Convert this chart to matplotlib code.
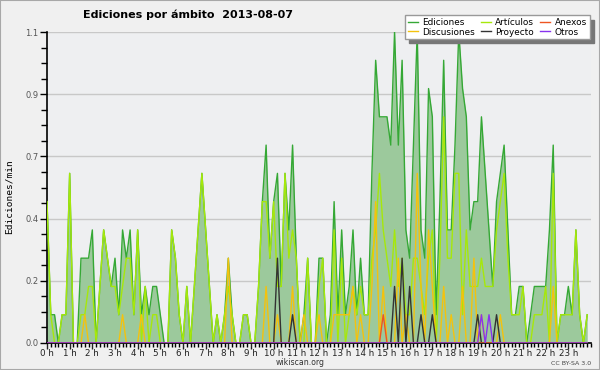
import numpy as np
import matplotlib
matplotlib.use('Agg')
import matplotlib.pyplot as plt
from matplotlib.ticker import FixedLocator, FuncFormatter

# edits per minute, 10-minute bins (144 per day), 12 bins per row = 2 hours
ediciones = [
    0.5, 0.1, 0.1, 0.0, 0.1, 0.1, 0.6, 0.0, 0.0, 0.3, 0.3, 0.3,
    0.4, 0.0, 0.2, 0.4, 0.3, 0.2, 0.3, 0.1, 0.4, 0.3, 0.4, 0.1,
    0.4, 0.1, 0.2, 0.1, 0.2, 0.2, 0.1, 0.0, 0.0, 0.4, 0.3, 0.1,
    0.0, 0.2, 0.0, 0.2, 0.4, 0.6, 0.4, 0.2, 0.0, 0.1, 0.0, 0.1,
    0.3, 0.1, 0.0, 0.0, 0.1, 0.1, 0.0, 0.0, 0.2, 0.5, 0.7, 0.3,
    0.5, 0.6, 0.2, 0.6, 0.4, 0.7, 0.3, 0.0, 0.1, 0.3, 0.0, 0.0,
    0.3, 0.3, 0.0, 0.1, 0.5, 0.1, 0.4, 0.1, 0.2, 0.4, 0.1, 0.3,
    0.1, 0.1, 0.6, 1.0, 0.8, 0.8, 0.8, 0.7, 1.1, 0.7, 1.0, 0.4,
    0.3, 0.7, 1.1, 0.4, 0.3, 0.9, 0.8, 0.1, 0.5, 1.0, 0.4, 0.4,
    0.7, 1.1, 0.9, 0.8, 0.4, 0.5, 0.5, 0.8, 0.6, 0.4, 0.2, 0.5,
    0.6, 0.7, 0.4, 0.1, 0.1, 0.2, 0.2, 0.0, 0.1, 0.2, 0.2, 0.2,
    0.2, 0.4, 0.7, 0.0, 0.1, 0.1, 0.2, 0.1, 0.4, 0.1, 0.0, 0.1,
]
articulos = [
    0.5, 0.1, 0.0, 0.0, 0.1, 0.1, 0.6, 0.0, 0.0, 0.1, 0.1, 0.2,
    0.2, 0.0, 0.2, 0.4, 0.3, 0.2, 0.2, 0.1, 0.2, 0.3, 0.3, 0.1,
    0.4, 0.0, 0.2, 0.0, 0.1, 0.1, 0.0, 0.0, 0.0, 0.4, 0.3, 0.1,
    0.0, 0.2, 0.0, 0.2, 0.4, 0.6, 0.4, 0.2, 0.0, 0.1, 0.0, 0.1,
    0.2, 0.1, 0.0, 0.0, 0.1, 0.1, 0.0, 0.0, 0.2, 0.5, 0.5, 0.3,
    0.5, 0.2, 0.2, 0.6, 0.3, 0.4, 0.3, 0.0, 0.0, 0.3, 0.0, 0.0,
    0.2, 0.3, 0.0, 0.0, 0.4, 0.0, 0.3, 0.0, 0.1, 0.2, 0.1, 0.2,
    0.1, 0.1, 0.3, 0.4, 0.6, 0.4, 0.3, 0.2, 0.4, 0.2, 0.3, 0.1,
    0.1, 0.3, 0.3, 0.2, 0.1, 0.3, 0.4, 0.0, 0.3, 0.8, 0.3, 0.3,
    0.6, 0.6, 0.1, 0.4, 0.2, 0.2, 0.2, 0.3, 0.2, 0.2, 0.2, 0.4,
    0.5, 0.6, 0.3, 0.1, 0.1, 0.1, 0.2, 0.0, 0.0, 0.1, 0.1, 0.1,
    0.2, 0.0, 0.6, 0.0, 0.1, 0.1, 0.1, 0.1, 0.4, 0.1, 0.0, 0.1,
]
discusiones = [
    0, 0, 0, 0, 0, 0, 0, 0, 0, 0, 0.1, 0,
    0, 0, 0, 0, 0, 0, 0, 0, 0.1, 0, 0, 0,
    0, 0.1, 0, 0, 0, 0, 0, 0, 0, 0, 0, 0,
    0, 0, 0, 0, 0, 0, 0, 0, 0, 0, 0, 0,
    0.3, 0, 0, 0, 0, 0, 0, 0, 0, 0, 0.2, 0,
    0, 0.1, 0, 0, 0, 0.2, 0, 0, 0.1, 0, 0, 0,
    0.1, 0, 0, 0, 0.1, 0.1, 0.1, 0.1, 0.1, 0.2, 0, 0.1,
    0, 0, 0.2, 0.5, 0, 0.2, 0, 0, 0, 0.3, 0, 0.1,
    0, 0, 0.6, 0.2, 0, 0.4, 0.2, 0, 0, 0.2, 0, 0.1,
    0, 0, 0.2, 0, 0, 0.3, 0, 0.1, 0, 0, 0, 0,
    0.1, 0, 0, 0, 0, 0, 0, 0, 0, 0, 0, 0,
    0, 0, 0.2, 0, 0, 0, 0, 0, 0, 0, 0, 0,
]
proyecto = [
    0, 0, 0, 0, 0, 0, 0, 0, 0, 0, 0, 0,
    0, 0, 0, 0, 0, 0, 0, 0, 0, 0, 0, 0,
    0, 0, 0, 0, 0, 0, 0, 0, 0, 0, 0, 0,
    0, 0, 0, 0, 0, 0, 0, 0, 0, 0, 0, 0,
    0, 0, 0, 0, 0, 0, 0, 0, 0, 0, 0, 0,
    0, 0.3, 0, 0, 0, 0.1, 0, 0, 0, 0, 0, 0,
    0, 0, 0, 0, 0, 0, 0, 0, 0, 0, 0, 0,
    0, 0, 0, 0, 0, 0, 0, 0, 0.2, 0, 0.3, 0,
    0.2, 0, 0, 0.1, 0, 0, 0.1, 0, 0, 0, 0, 0,
    0, 0, 0, 0, 0, 0, 0.1, 0, 0, 0, 0, 0.1,
    0, 0, 0, 0, 0, 0, 0, 0, 0, 0, 0, 0,
    0, 0, 0, 0, 0, 0, 0, 0, 0, 0, 0, 0,
]
anexos = [0] * 144
anexos[89] = 0.1
otros = [0] * 144
otros[115] = 0.1
otros[117] = 0.1

hour_labels = ['%d h' % h for h in range(24)]
y_ticks = [0.0, 0.22, 0.44, 0.66, 0.88, 1.1]

x = np.arange(len(ediciones)) / 6.0

fig = plt.figure(figsize=(6, 3.7), dpi=100, facecolor='#f0f0f0')
fig.patches.append(plt.Rectangle((0, 0), 1, 1, transform=fig.transFigure,
                                 fill=False, edgecolor='#a8a8a8', lw=1.5))
ax = fig.add_axes([47 / 600, 27 / 370, 544 / 600, 311 / 370])
ax.set_facecolor('#eeeff1')

ax.fill_between(x, ediciones, color='#9cc99c', lw=0, zorder=2)
ax.plot(x, ediciones, color='#35a835', lw=1.0, label='Ediciones', zorder=3)
ax.plot(x, articulos, color='#a6e80a', lw=1.0, label='Artículos', zorder=4)
ax.plot(x, discusiones, color='#f4c20d', lw=1.0, label='Discusiones', zorder=5)
ax.plot(x, proyecto, color='#333333', lw=1.0, label='Proyecto', zorder=6)
ax.plot(x, anexos, color='#ee5522', lw=1.0, label='Anexos', zorder=6)
ax.plot(x, otros, color='#8833ee', lw=1.0, label='Otros', zorder=6)

ax.set_xlim(0, 24)
ax.set_ylim(0, 1.1)
ax.xaxis.set_major_locator(FixedLocator(range(24)))
ax.xaxis.set_minor_locator(FixedLocator(np.arange(0, 24.01, 1 / 6.0)))
ax.set_xticklabels(hour_labels)
ax.yaxis.set_major_locator(FixedLocator(y_ticks))
ax.yaxis.set_minor_locator(FixedLocator(np.arange(0, 1.101, 0.055)))
ax.yaxis.set_major_formatter(FuncFormatter(lambda v, p: '%.1f' % v))
ax.tick_params(axis='x', which='major', length=4, width=1, labelsize=6.3, pad=0, colors='#222222')
ax.tick_params(axis='x', which='minor', length=3, width=1)
ax.tick_params(axis='y', which='major', length=5, width=1, labelsize=6, pad=1, labelcolor='#555555')
ax.tick_params(axis='y', which='minor', length=4, width=1)
ax.grid(axis='y', which='major', color='#c8c8c8', lw=1, zorder=1)
ax.set_axisbelow(True)
for s in ['top', 'right']:
    ax.spines[s].set_visible(False)
ax.spines['left'].set_linewidth(1.2)
ax.spines['bottom'].set_linewidth(1.2)

ax.set_ylabel('Ediciones/min', family='DejaVu Sans Mono', fontsize=6.8)
ax.yaxis.set_label_coords(-0.062, 0.47)
fig.text(0.313, 0.96, 'Ediciones por ámbito  2013-08-07', ha='center', va='center',
         fontsize=8, fontweight='bold')
fig.text(0.5, 1 - 367 / 370, 'wikiscan.org', ha='center', va='bottom', fontsize=5.6, color='#333333')
fig.text(0.985, 1 - 366 / 370, 'CC BY-SA 3.0', ha='right', va='bottom', fontsize=4.5, color='#444444')

handles, labels = ax.get_legend_handles_labels()
order = [0, 2, 1, 3, 4, 5]
leg = fig.legend([handles[i] for i in order], [labels[i] for i in order],
                 loc='upper right', bbox_to_anchor=(594 / 600, 1 - 11 / 370), ncol=3,
                 fontsize=6.4, handlelength=1.1, handletextpad=0.5, columnspacing=0.7,
                 labelspacing=0.05, borderpad=0.3, fancybox=False, framealpha=1,
                 edgecolor='#999999', shadow={'ox': 3, 'oy': -3, 'color': '#777777', 'alpha': 1})
for line in leg.get_lines():
    line.set_linewidth(1.0)

fig.savefig('out.png', dpi=100, facecolor=fig.get_facecolor())
